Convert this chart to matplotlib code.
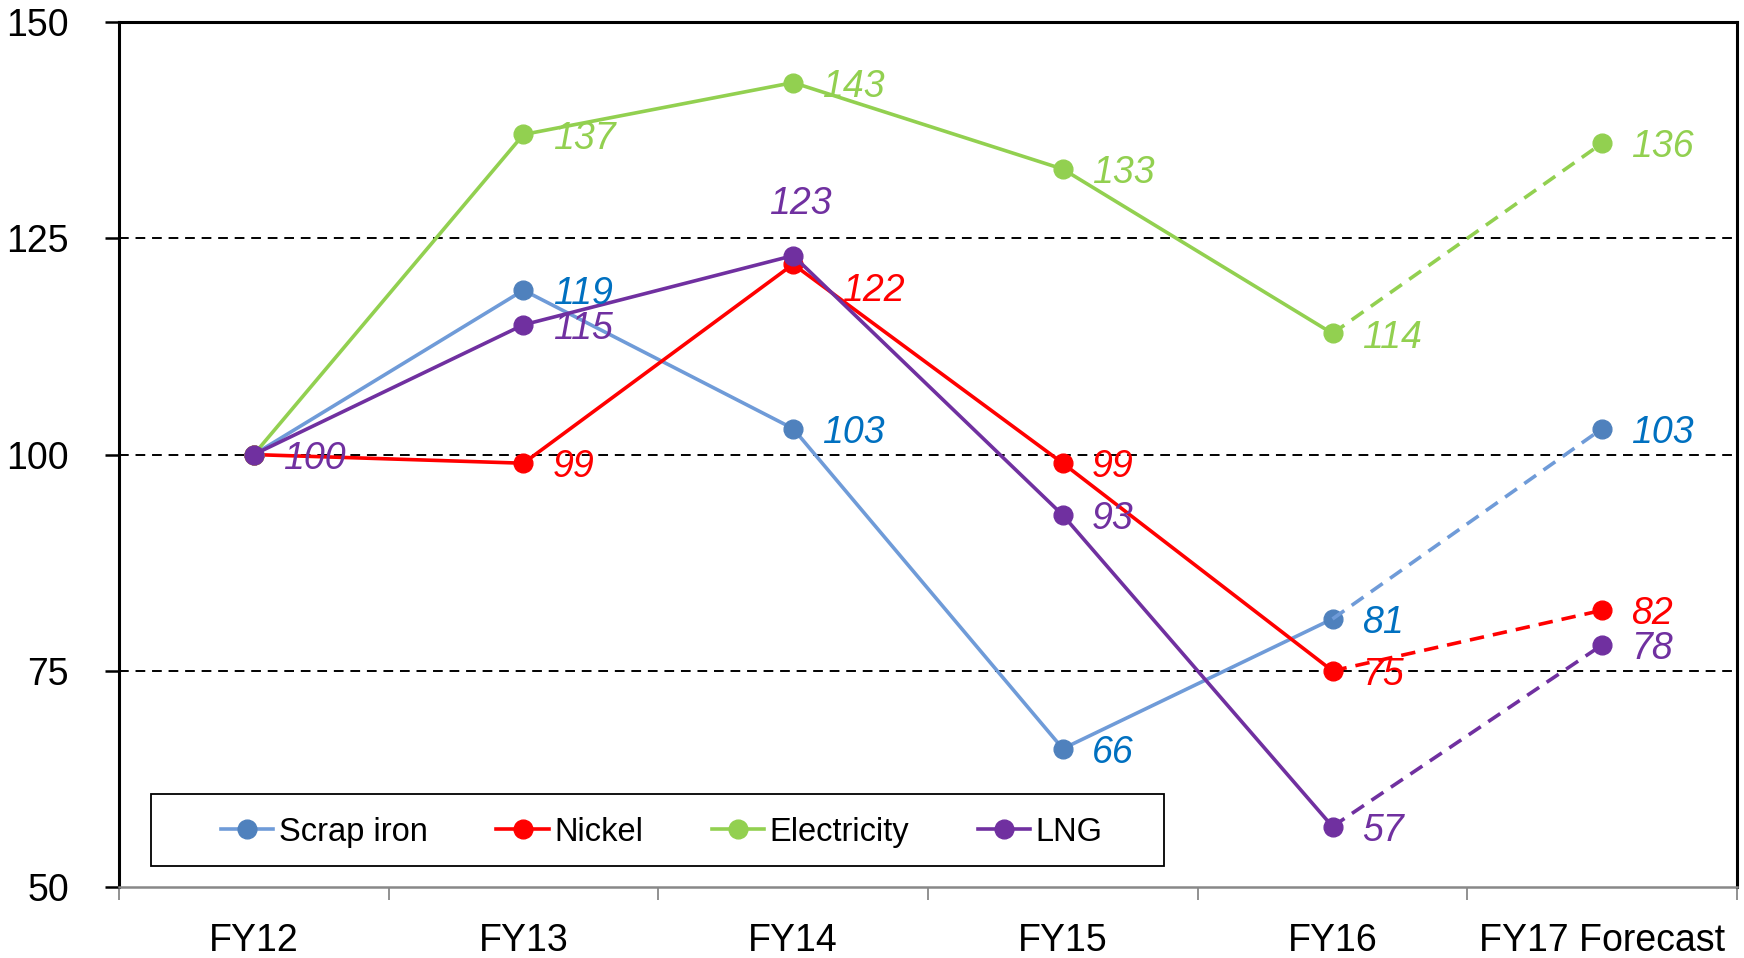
import numpy as np
import matplotlib
matplotlib.use('Agg')
import matplotlib.pyplot as plt
from matplotlib.ticker import FixedLocator
from matplotlib.patches import Rectangle

plt.rcParams['font.family'] = ['Liberation Sans', 'DejaVu Sans']

# Data
categories = ['FY12', 'FY13', 'FY14', 'FY15', 'FY16', 'FY17 Forecast']
scrap_iron = [100, 119, 103, 66, 81, 103]
nickel = [100, 99, 122, 99, 75, 82]
electricity = [100, 137, 143, 133, 114, 136]
lng = [100, 115, 123, 93, 57, 78]

series = [
    ('Scrap iron', scrap_iron, '#6F9BD8', '#4F81BD', '#0070C0'),
    ('Nickel', nickel, '#FF0000', '#FF0000', '#FF0000'),
    ('Electricity', electricity, '#92D050', '#92D050', '#92D050'),
    ('LNG', lng, '#7030A0', '#7030A0', '#7030A0'),
]

fig = plt.figure(figsize=(17.44, 9.58), dpi=100)
ax = fig.add_axes([0.0682, 0.074, 0.9278, 0.903])

x = np.arange(len(categories))

# grid lines
for yv in [75, 100, 125]:
    ax.axhline(yv, color='black', lw=1.4, ls=(0, (5, 3.5)), zorder=1)

for name, vals, lc, mc, tc in series:
    ax.plot(x[:5], vals[:5], color=lc, lw=2.6, marker='o', ms=13.5,
            mfc=mc, mec=mc, label=name, zorder=3)
    ax.plot(x[4:], vals[4:], color=lc, lw=2.6, ls=(0, (4, 2.5)), zorder=3)
    ax.plot(x[5], vals[5], 'o', ms=13.5, mfc=mc, mec=mc, zorder=3)
    for i, v in enumerate(vals):
        if i == 0 and name != 'LNG':
            continue
        off = (21, -3)
        ha = 'left'
        if name == 'LNG' and i == 2:
            off = (5, 37)
            ha = 'center'
        if name == 'Nickel' and i == 2:
            off = (35, -19)
        ax.annotate(str(v), (x[i], v), xytext=off, textcoords='offset points',
                    ha=ha, va='center', color=tc, fontsize=27,
                    fontstyle='italic', zorder=4)

ax.set_xlim(-0.5, 5.5)
ax.set_ylim(50, 150)
ax.set_yticks([50, 75, 100, 125, 150])
ax.tick_params(axis='y', length=10, width=1.8, labelsize=27, pad=26, color='black')

ax.set_xticks(x)
ax.set_xticklabels(categories)
ax.tick_params(axis='x', which='major', length=0, labelsize=27, pad=26)
ax.xaxis.set_minor_locator(FixedLocator(np.arange(-0.5, 6, 1)))
ax.tick_params(axis='x', which='minor', length=9, width=1.3, color='#888888')

for s in ['left', 'top', 'right']:
    ax.spines[s].set_color('black')
    ax.spines[s].set_linewidth(2.2)
ax.spines['bottom'].set_color('#888888')
ax.spines['bottom'].set_linewidth(1.8)

# legend box
ax.add_patch(Rectangle((0.0198, 0.0243), 0.6262, 0.0832, transform=ax.transAxes,
                       fill=True, facecolor='white', edgecolor='black', lw=1.3, zorder=5))
leg = ax.legend(loc='center', bbox_to_anchor=(0.3355, 0.0635), ncol=4, fontsize=23.5,
                frameon=False, handlelength=1.6, handletextpad=0.17,
                columnspacing=2.1, borderaxespad=0)
leg.set_zorder(6)

fig.savefig('out.png', dpi=100)
